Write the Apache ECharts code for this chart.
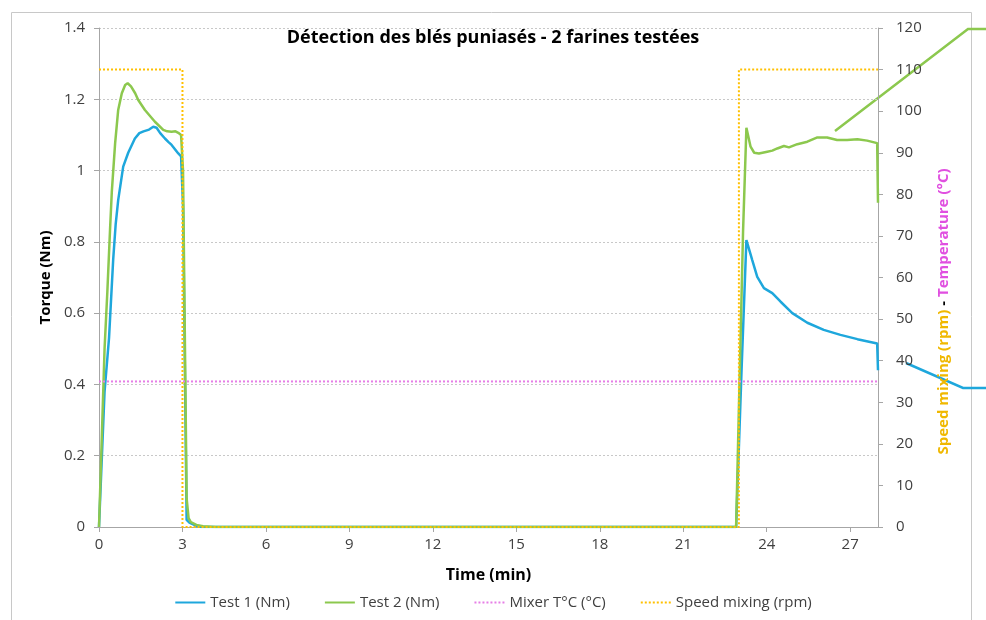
<!DOCTYPE html>
<html>
<head>
<meta charset="utf-8">
<script src="https://cdn.jsdelivr.net/npm/echarts@6/dist/echarts.min.js"></script>
<style>
  html, body { margin: 0; padding: 0; background: #fff; }
  #chart { width: 986px; height: 620px; }
</style>
</head>
<body>
<div id="chart"></div>
<script>
// temps (min) et couple (Nm)
const test1Time = [0, 0.2, 0.36, 0.51, 0.6, 0.69, 0.87, 1.05, 1.29, 1.45, 1.6, 1.8, 1.95, 2.07, 2.2, 2.37, 2.5, 2.61, 2.85, 2.95, 3.02, 3.15, 3.25, 3.5, 3.7, 6, 9, 12, 15, 18, 21, 22.9, 23.1, 23.27, 23.48, 23.66, 23.9, 24.2, 24.5, 24.92, 25.46, 26.05, 26.65, 27.26, 27.97, 28];
const test1Torque = [0, 0.38, 0.53, 0.75, 0.85, 0.917, 1.011, 1.05, 1.09, 1.105, 1.11, 1.115, 1.123, 1.12, 1.105, 1.09, 1.08, 1.072, 1.048, 1.04, 0.9, 0.02, 0.012, 0.003, 0, 0, 0, 0, 0, 0, 0, 0, 0.45, 0.805, 0.749, 0.702, 0.67, 0.656, 0.632, 0.6, 0.573, 0.553, 0.539, 0.527, 0.515, 0.44];

const test2Time = [0, 0.2, 0.3, 0.4, 0.46, 0.58, 0.69, 0.82, 0.94, 1.03, 1.15, 1.3, 1.41, 1.65, 2.01, 2.31, 2.45, 2.61, 2.75, 2.85, 2.95, 3.02, 3.15, 3.22, 3.3, 3.5, 3.74, 4.2, 6, 9, 12, 15, 18, 21, 22.9, 23.15, 23.27, 23.42, 23.55, 23.72, 24.02, 24.2, 24.38, 24.62, 24.8, 25.1, 25.46, 25.82, 26.17, 26.53, 26.89, 27.26, 27.61, 27.97, 28];
const test2Torque = [0, 0.5, 0.66, 0.84, 0.94, 1.077, 1.17, 1.217, 1.24, 1.245, 1.236, 1.217, 1.198, 1.17, 1.137, 1.114, 1.11, 1.109, 1.11, 1.106, 1.1, 1.0, 0.08, 0.025, 0.014, 0.006, 0.002, 0, 0, 0, 0, 0, 0, 0, 0, 0.83, 1.12, 1.067, 1.05, 1.048, 1.053, 1.056, 1.062, 1.069, 1.065, 1.074, 1.081, 1.093, 1.093, 1.086, 1.086, 1.088, 1.084, 1.077, 0.91];

const mixerTime = [0, 28];
const mixerTemp = [35, 35];

const speedTime = [0, 3, 3, 23, 23, 28];
const speedRpm = [110, 110, 0, 0, 110, 110];

const xTicks = [0, 3, 6, 9, 12, 15, 18, 21, 24, 27];

const zip = (a, b) => a.map((v, i) => [v, b[i]]);

const FONT = 'Open Sans';
const TXT = '#404040';
const BLUE = '#1ea7dc';
const GREEN = '#8cc84e';
const PINK = '#e67ee6';
const GOLD = '#ffc000';

const chart = echarts.init(document.getElementById('chart'));
chart.setOption({
  animation: false,
  textStyle: { fontFamily: FONT },
  title: {
    text: 'Détection des blés puniasés - 2 farines testées',
    left: 'center', top: 24,
    textStyle: { fontFamily: FONT, fontSize: 18, fontWeight: 'bold', color: '#000' }
  },
  legend: {
    bottom: 5, left: 'center',
    itemWidth: 30, itemHeight: 10, itemGap: 34,
    itemStyle: { opacity: 0 },
    textStyle: { fontFamily: FONT, fontSize: 15, color: TXT },
    data: ['Test 1 (Nm)', 'Test 2 (Nm)', 'Mixer T°C (°C)', 'Speed mixing (rpm)']
  },
  grid: { left: 99, right: 108, top: 28, bottom: 93, outerBoundsMode: 'none' },
  xAxis: {
    type: 'value', min: 0, max: 28, interval: 3,
    name: 'Time (min)', nameLocation: 'middle', nameGap: 40,
    nameTextStyle: { fontFamily: FONT, fontSize: 16, fontWeight: 'bold', color: '#000' },
    axisLine: { lineStyle: { color: '#a6a6a6' } },
    axisTick: { length: 5, lineStyle: { color: '#a6a6a6' }, customValues: xTicks },
    axisLabel: { fontSize: 15, color: TXT, margin: 10, customValues: xTicks },
    splitLine: { show: false }
  },
  yAxis: [
    {
      type: 'value', min: 0, max: 1.4, interval: 0.2,
      name: 'Torque (Nm)', nameLocation: 'middle', nameGap: 44,
      nameTextStyle: { fontFamily: FONT, fontSize: 15, fontWeight: 'bold', color: '#000' },
      axisLine: { show: true, lineStyle: { color: '#a6a6a6' } },
      axisTick: { show: true, length: 5, lineStyle: { color: '#a6a6a6' } },
      axisLabel: { fontSize: 15, color: TXT, margin: 14 },
      splitLine: { show: true, lineStyle: { color: '#c8c8c8', type: [2, 2], width: 1 } }
    },
    {
      type: 'value', min: 0, max: 120, interval: 10, position: 'right',
      name: '{s|Speed mixing (rpm)}{d| - }{t|Temperature (°C)}',
      nameLocation: 'middle', nameGap: 58,
      nameTextStyle: {
        padding: [0, 68, 0, 0],
        rich: {
          s: { fontFamily: FONT, fontSize: 15, fontWeight: 'bold', color: '#f0b800' },
          d: { fontFamily: FONT, fontSize: 15, fontWeight: 'bold', color: '#000' },
          t: { fontFamily: FONT, fontSize: 15, fontWeight: 'bold', color: '#e050e0' }
        }
      },
      axisLine: { show: true, lineStyle: { color: '#a6a6a6' } },
      axisTick: { show: true, length: 5, lineStyle: { color: '#a6a6a6' } },
      axisLabel: { fontSize: 15, color: TXT, margin: 18 },
      splitLine: { show: false }
    }
  ],
  series: [
    {
      name: 'Test 1 (Nm)', type: 'line', yAxisIndex: 0, symbol: 'none',
      data: zip(test1Time, test1Torque),
      lineStyle: { color: BLUE, width: 2.5 }, itemStyle: { color: BLUE }
    },
    {
      name: 'Test 2 (Nm)', type: 'line', yAxisIndex: 0, symbol: 'none',
      data: zip(test2Time, test2Torque),
      lineStyle: { color: GREEN, width: 2.5 }, itemStyle: { color: GREEN }
    },
    {
      name: 'Mixer T°C (°C)', type: 'line', yAxisIndex: 1, symbol: 'none',
      data: zip(mixerTime, mixerTemp),
      lineStyle: { color: PINK, width: 2, type: [2, 2] }, itemStyle: { color: PINK }
    },
    {
      name: 'Speed mixing (rpm)', type: 'line', yAxisIndex: 1, symbol: 'none',
      data: zip(speedTime, speedRpm),
      lineStyle: { color: GOLD, width: 2, type: [2, 2] }, itemStyle: { color: GOLD }
    }
  ],
  graphic: [
    // cadre de la zone de graphique
    { type: 'rect', shape: { x: 11.5, y: 12.5, width: 960, height: 620 }, style: { fill: null, stroke: '#c8c8c8', lineWidth: 1 }, silent: true },
    // traits de rappel sortant du cadre
    { type: 'polyline', shape: { points: [[835, 131], [968, 29], [986, 29]] }, style: { stroke: GREEN, lineWidth: 2.5, fill: null }, silent: true },
    { type: 'polyline', shape: { points: [[906, 363], [963, 388], [986, 388]] }, style: { stroke: BLUE, lineWidth: 2.5, fill: null }, silent: true }
  ]
});
</script>
</body>
</html>
